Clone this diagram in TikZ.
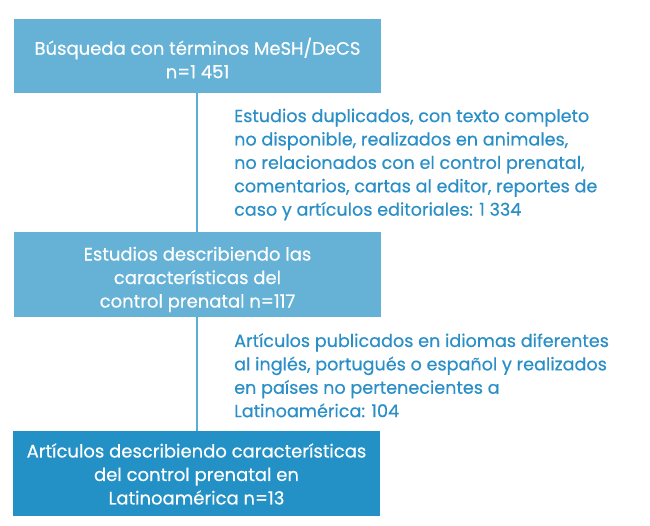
\documentclass[tikz,border=0pt]{standalone}
\usepackage{fontspec}
\setmainfont[FakeBold=0.5]{Poppins}
\definecolor{boxlight}{HTML}{65B2D6}
\definecolor{boxdark}{HTML}{2391C5}
\definecolor{sidetext}{HTML}{2A8FC6}
\definecolor{linecol}{HTML}{5AAED6}
\begin{document}
\begin{tikzpicture}[x=1pt,y=-1pt,
  boxstyle/.style={inner sep=0pt, text=white, font=\fontsize{18}{23.5}\selectfont, align=center},
  sidestyle/.style={anchor=north west, inner sep=0pt, text=sidetext, font=\fontsize{17.6}{23.4}\selectfont, align=left},
  connector/.style={draw=linecol, line width=1.5pt}]
\useasboundingbox (0,0) rectangle (650,526);
\fill[boxlight] (14,19) rectangle (381,93.5);
\fill[boxlight] (14,232) rectangle (381,317);
\fill[boxdark] (13,431) rectangle (380,516);
\node[boxstyle] (b1) at (197.5,58) {Búsqueda con términos MeSH/DeCS\\n=1 451};
\node[boxstyle] (b2) at (197.5,279.5) {Estudios describiendo las\\características del\\control prenatal n=117};
\node[boxstyle] (b3) at (196.5,474) {Artículos describiendo características\\del control prenatal en\\Latinoamérica n=13};
\coordinate (b1s) at (197,93.5);
\coordinate (b2n) at (197,232);
\coordinate (b2s) at (197,317);
\coordinate (b3n) at (197,431);
\draw[connector] (b1s) -- (b2n);
\draw[connector] (b2s) -- (b3n);
\node[sidestyle] (s1) at (234,108.5) {Estudios duplicados, con texto completo\\no disponible, realizados en animales,\\no relacionados con el control prenatal,\\comentarios, cartas al editor, reportes de\\caso y artículos editoriales: 1 334};
\node[sidestyle] (s2) at (234,333) {Artículos publicados en idiomas diferentes\\al inglés, portugués o español y realizados\\en países no pertenecientes a\\Latinoamérica: 104};
\end{tikzpicture}
\end{document}
